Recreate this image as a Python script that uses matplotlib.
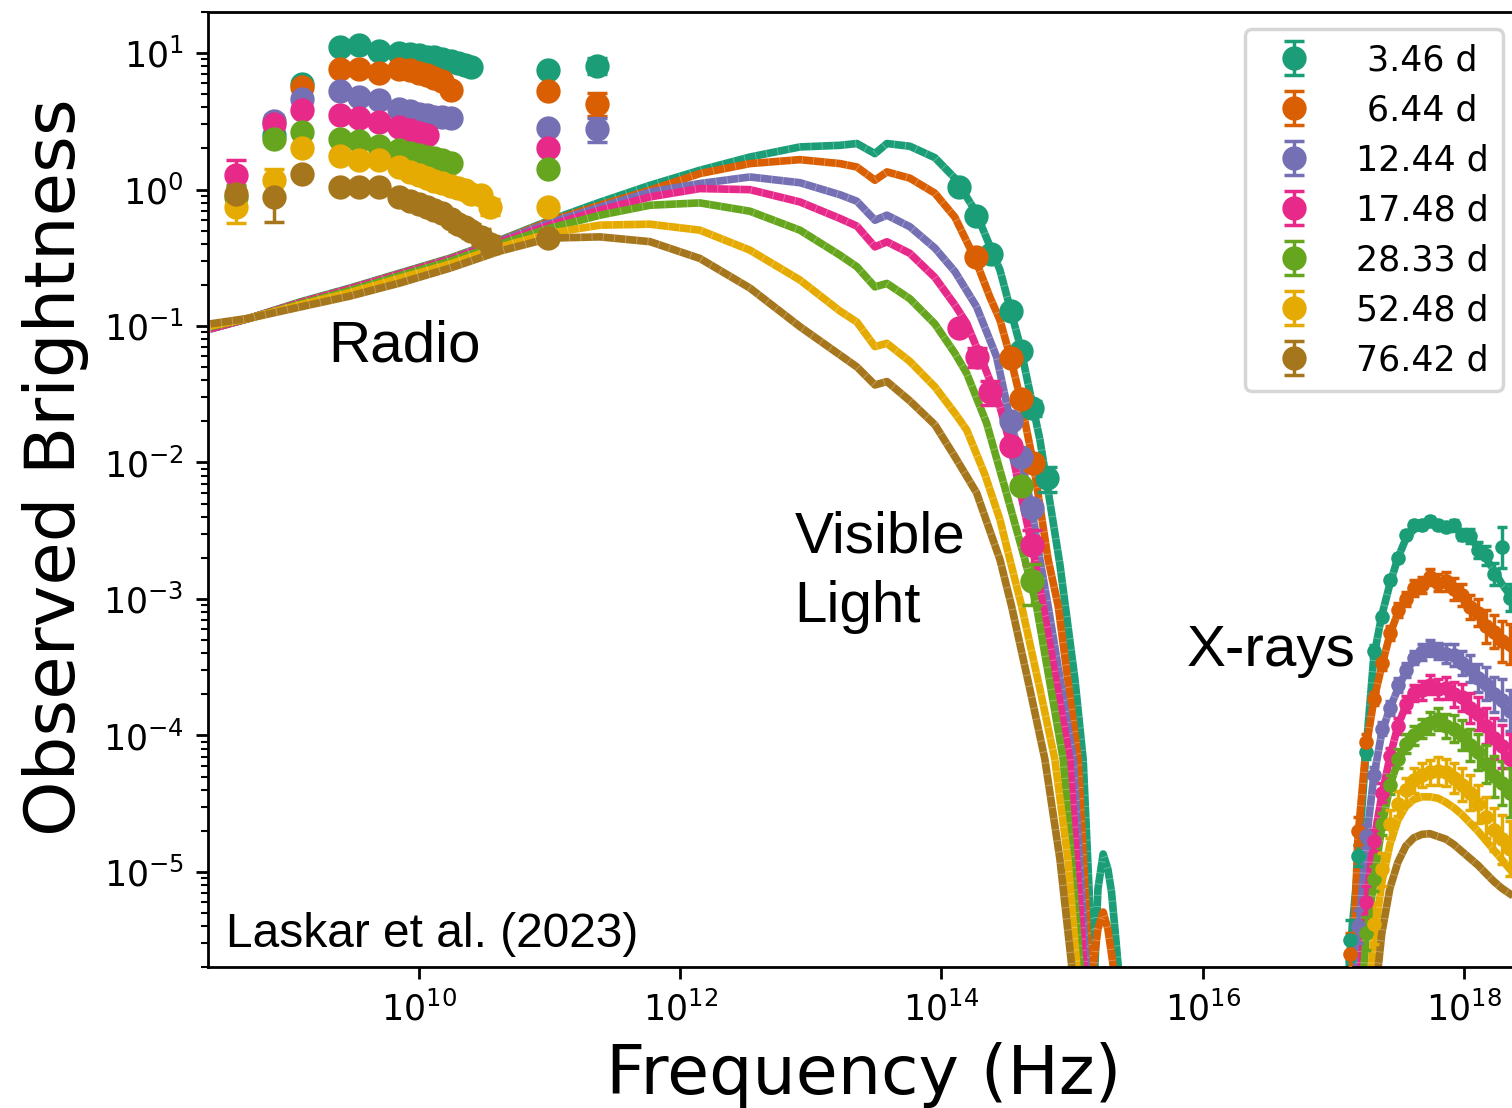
import numpy as np
import matplotlib.pyplot as plt
from matplotlib.ticker import NullLocator

nan = np.nan

epochs = [3.46, 6.44, 12.44, 17.48, 28.33, 52.48, 76.42]
colors = ['#1b9e77', '#d95f02', '#7570b3', '#e7298a', '#66a61e', '#e6ab02', '#a6761d']

# ---- radio / mm points (GHz)
radio_ghz = [0.4, 0.78, 1.27, 2.5, 3.5, 5.0, 7.0, 8.5, 10.0, 11.5, 13.0, 15.0,
             17.5, 20.0, 22.5, 25.0, 30.0, 35.0, 97.5, 230.0]

radio_346 = [nan, 2.5, 5.96, 11.0, 11.4, 10.4, 10.0, 9.9, 9.6, 9.4, 9.3, 9.1, 8.8, 8.5, 8.2, 7.9, nan, nan, 7.55, 8.1]
radio_644 = [nan, nan, 5.63, 7.7, 7.7, 7.2, 7.6, 7.5, 7.1, 6.9, 6.6, 6.2, 5.4, nan, nan, nan, nan, nan, 5.24, 4.26]
radio_1244 = [nan, 3.2, 4.63, 5.3, 4.8, 4.5, 3.9, 3.76, 3.6, 3.5, 3.4, 3.4, 3.34, nan, nan, nan, nan, nan, 2.84, 2.79]
radio_1748 = [1.27, 3.0, 3.80, 3.5, 3.34, 3.1, 2.87, 2.72, 2.6, 2.53, nan, nan, nan, nan, nan, nan, nan, nan, 2.03, nan]
radio_2833 = [0.88, 2.36, 2.64, 2.36, 2.27, 2.07, 1.94, 1.85, 1.78, 1.73, 1.69, 1.64, 1.57, nan, nan, nan, nan, nan, 1.41, nan]
radio_5248 = [0.746, 1.17, 2.01, 1.75, 1.64, 1.64, 1.46, 1.35, 1.27, 1.22, 1.16, 1.11, 1.06, 1.02, 0.99, 0.935, 0.91, 0.75, 0.75, nan]
radio_7642 = [0.935, 0.88, 1.31, 1.045, 1.045, 1.045, 0.88, 0.83, 0.78, 0.75, 0.71, 0.67, 0.61, 0.56, 0.53, 0.50, 0.45, 0.40, 0.44, nan]

rerr_346 = [nan, 0.1, 0.2, 0.3, 0.3, 0.3, 0.3, 0.2, 0.2, 0.2, 0.2, 0.2, 0.2, 0.2, 0.2, 0.2, nan, nan, 0.3, 1.1]
rerr_644 = [nan, nan, 0.2, 0.2, 0.2, 0.2, 0.2, 0.2, 0.2, 0.2, 0.2, 0.2, 0.2, nan, nan, nan, nan, nan, 0.2, 0.8]
rerr_1244 = [nan, 0.3, 0.15, 0.15, 0.15, 0.1, 0.1, 0.1, 0.1, 0.1, 0.1, 0.1, 0.1, nan, nan, nan, nan, nan, 0.1, 0.55]
rerr_1748 = [0.38, 0.3, 0.1, 0.1, 0.1, 0.1, 0.1, 0.1, 0.1, 0.1, nan, nan, nan, nan, nan, nan, nan, nan, 0.1, nan]
rerr_2833 = [0.2, 0.15, 0.1, 0.08, 0.08, 0.06, 0.06, 0.06, 0.05, 0.05, 0.05, 0.05, 0.05, nan, nan, nan, nan, nan, 0.05, nan]
rerr_5248 = [0.18, 0.25, 0.08, 0.06, 0.06, 0.05, 0.05, 0.05, 0.05, 0.05, 0.05, 0.05, 0.05, 0.05, 0.05, 0.06, 0.08, 0.1, 0.05, nan]
rerr_7642 = [0.1, 0.3, 0.06, 0.04, 0.04, 0.04, 0.04, 0.04, 0.04, 0.04, 0.04, 0.04, 0.05, 0.06, 0.06, 0.06, 0.06, 0.06, 0.04, nan]

# ---- optical / NIR points (Hz)
opt_nu_346 = [1.37e14, 1.84e14, 2.42e14, 3.39e14, 4.05e14, 4.91e14, 6.47e14]
opt_f_346 = [1.045, 0.638, 0.335, 0.129, 0.0659, 0.025, 0.00769]
opt_e_346 = [0.03, 0.02, 0.01, 0.004, 0.002, 0.003, 0.0016]
opt_nu_644 = [1.84e14, 3.39e14, 4.05e14, 5.05e14]
opt_f_644 = [0.318, 0.058, 0.0291, 0.0099]
opt_e_644 = [0.01, 0.002, 0.001, 0.001]
opt_nu_1244 = [3.39e14, 4.05e14, 4.91e14]
opt_f_1244 = [0.020, 0.0109, 0.00464]
opt_e_1244 = [0.001, 0.0006, 0.0004]
opt_nu_1748 = [1.37e14, 1.86e14, 2.38e14, 3.39e14, 4.91e14]
opt_f_1748 = [0.0962, 0.0596, 0.033, 0.01325, 0.0025]
opt_e_1748 = [0.004, 0.0094, 0.0067, 0.0012, 0.0007]
opt_nu_2833 = [4.05e14, 4.91e14]
opt_f_2833 = [0.00667, 0.00135]
opt_e_2833 = [0.0005, 0.00045]

# ---- X-ray points (log10 Hz, log10 flux, error in dex)
xr_lognu = [17.128, 17.189, 17.250, 17.311, 17.372, 17.434, 17.495, 17.556, 17.617, 17.679, 17.740,
            17.801, 17.862, 17.924, 17.985, 18.046, 18.107, 18.168, 18.230, 18.291, 18.352]
xr_346 = [-5.50, -4.88, -4.12, -3.38, -3.13, -2.86, -2.70, -2.53, -2.46, -2.46, -2.43,
          -2.46, -2.47, -2.46, -2.53, -2.54, -2.64, -2.68, -2.82, -2.62, -2.99]
xr_644 = [-5.60, -4.70, -4.05, -3.73, -3.47, -3.25, -3.08, -3.00, -2.92, -2.90, -2.84,
          -2.88, -2.87, -2.93, -2.97, -3.06, -3.10, -3.20, -3.24, -3.31, -3.33]
xr_1244 = [nan, -5.40, -4.74, -4.29, -3.95, -3.80, -3.63, -3.52, -3.43, -3.39, -3.36,
           -3.38, -3.40, -3.41, -3.47, -3.51, -3.58, -3.62, -3.70, -3.74, -3.82]
xr_1748 = [nan, nan, -5.22, -4.77, -4.42, -4.15, -3.93, -3.77, -3.69, -3.67, -3.63,
           -3.66, -3.65, -3.70, -3.72, -3.80, -3.84, -3.93, -4.02, -4.08, -4.17]
xr_2833 = [nan, nan, -5.45, -5.05, -4.65, -4.36, -4.17, -4.06, -4.00, -3.95, -3.91,
           -3.88, -3.93, -3.95, -4.00, -4.07, -4.12, -4.21, -4.30, -4.35, -4.42]
xr_5248 = [nan, nan, nan, -5.38, -4.98, -4.65, -4.50, -4.40, -4.33, -4.29, -4.27,
           -4.26, -4.27, -4.31, -4.36, -4.42, -4.50, -4.60, -4.69, -4.76, -4.83]
xe_346 = [0.15, 0.08, 0.05, 0.04, 0.03, 0.03, 0.03, 0.03, 0.03, 0.03, 0.03,
          0.03, 0.03, 0.04, 0.04, 0.05, 0.06, 0.07, 0.08, 0.15, 0.10]
xe_644 = [0.15, 0.10, 0.06, 0.05, 0.05, 0.05, 0.05, 0.05, 0.06, 0.06, 0.06,
          0.06, 0.07, 0.08, 0.08, 0.09, 0.10, 0.12, 0.12, 0.15, 0.15]
xe_1244 = [0.0, 0.12, 0.08, 0.06, 0.05, 0.05, 0.05, 0.05, 0.05, 0.06, 0.06,
           0.06, 0.07, 0.08, 0.09, 0.10, 0.10, 0.12, 0.13, 0.15, 0.15]
xe_1748 = [0.0, 0.0, 0.12, 0.08, 0.07, 0.06, 0.06, 0.06, 0.06, 0.07, 0.07,
           0.07, 0.08, 0.09, 0.10, 0.11, 0.12, 0.13, 0.15, 0.16, 0.18]
xe_2833 = [0.0, 0.0, 0.12, 0.09, 0.08, 0.07, 0.07, 0.07, 0.07, 0.07, 0.08,
           0.08, 0.09, 0.10, 0.11, 0.12, 0.13, 0.14, 0.15, 0.16, 0.18]
xe_5248 = [0.0, 0.0, 0.0, 0.15, 0.12, 0.10, 0.09, 0.09, 0.09, 0.09, 0.09,
           0.10, 0.10, 0.11, 0.12, 0.13, 0.14, 0.15, 0.16, 0.18, 0.20]

# ---- model curves, radio to optical (log10 Hz, log10 flux)
mod_lognu = [8.40, 8.708, 9.091, 9.473, 9.856, 10.239, 10.622, 11.004, 11.387, 11.770,
             12.152, 12.535, 12.918, 13.224, 13.354, 13.492, 13.584, 13.760, 13.951, 14.104]
mod_346 = [-1.022, -0.942, -0.824, -0.722, -0.612, -0.503, -0.371, -0.225, -0.093, 0.031,
           0.141, 0.238, 0.312, 0.324, 0.337, 0.263, 0.337, 0.317, 0.233, 0.083]
mod_644 = [-1.022, -0.942, -0.828, -0.726, -0.616, -0.506, -0.375, -0.232, -0.115, -0.005,
           0.117, 0.190, 0.219, 0.190, 0.165, 0.068, 0.129, 0.083, -0.027, -0.203]
mod_1244 = [-1.022, -0.942, -0.832, -0.729, -0.620, -0.510, -0.378, -0.243, -0.130, -0.018,
            0.044, 0.092, 0.050, -0.038, -0.086, -0.225, -0.188, -0.273, -0.429, -0.601]
mod_1748 = [-1.022, -0.942, -0.832, -0.729, -0.620, -0.514, -0.386, -0.261, -0.152, -0.054,
            0.007, -0.001, -0.091, -0.212, -0.268, -0.420, -0.383, -0.468, -0.644, -0.846]
mod_2833 = [-1.007, -0.942, -0.839, -0.740, -0.631, -0.525, -0.400, -0.283, -0.188, -0.115,
            -0.098, -0.159, -0.298, -0.481, -0.566, -0.713, -0.688, -0.801, -0.985, -1.200]
mod_5248 = [-1.000, -0.942, -0.846, -0.755, -0.649, -0.546, -0.422, -0.320, -0.261, -0.254,
            -0.298, -0.444, -0.663, -0.890, -0.971, -1.151, -1.127, -1.260, -1.446, -1.639]
mod_7642 = [-0.985, -0.942, -0.861, -0.781, -0.685, -0.576, -0.451, -0.356, -0.347, -0.382,
            -0.505, -0.722, -1.005, -1.212, -1.300, -1.432, -1.407, -1.549, -1.724, -1.958]

# steep optical cut-off of each model
tail_nu_346 = [14.257, 14.449, 14.602, 14.755, 14.908, 15.023, 15.086, 15.132, 15.150, 15.164,
               15.176, 15.199, 15.239, 15.275, 15.303, 15.329, 15.354, 15.367]
tail_f_346 = [-0.151, -0.590, -1.139, -1.834, -2.748, -3.590, -4.175, -5.148, -5.689, -7.0,
              -5.689, -5.125, -4.869, -4.979, -5.148, -5.418, -5.689, -7.0]
tail_nu_644 = [14.257, 14.372, 14.449, 14.530, 14.602, 14.704, 14.818, 14.895, 15.048, 15.130,
               15.145, 15.163, 15.199, 15.239, 15.275, 15.316, 15.329]
tail_f_644 = [-0.503, -0.788, -0.956, -1.234, -1.518, -2.002, -2.712, -3.053, -4.175, -5.675,
              -7.0, -5.689, -5.418, -5.294, -5.418, -5.689, -7.0]
tail_nu_1244 = [14.270, 14.423, 14.530, 14.607, 14.691, 14.755, 14.818, 15.010, 15.107, 15.122]
tail_f_1244 = [-0.859, -1.225, -1.700, -1.963, -2.331, -2.712, -3.053, -4.175, -5.675, -7.0]
tail_nu_1748 = [14.194, 14.321, 14.449, 14.530, 14.602, 14.716, 14.780, 14.984, 15.091, 15.107]
tail_f_1748 = [-0.980, -1.273, -1.590, -1.878, -2.200, -2.712, -3.053, -4.175, -5.675, -7.0]
tail_nu_2833 = [14.194, 14.347, 14.487, 14.640, 14.729, 14.933, 15.061, 15.076]
tail_f_2833 = [-1.346, -1.712, -2.185, -2.712, -3.053, -4.175, -5.675, -7.0]
tail_nu_5248 = [14.194, 14.334, 14.449, 14.525, 14.615, 14.755, 14.869, 14.969, 15.036, 15.049]
tail_f_5248 = [-1.761, -2.090, -2.419, -2.712, -3.053, -3.661, -4.175, -4.906, -5.675, -7.0]
tail_nu_7642 = [14.270, 14.449, 14.538, 14.678, 14.793, 14.908, 14.997, 15.011]
tail_f_7642 = [-2.222, -2.712, -3.053, -3.661, -4.175, -4.906, -5.675, -7.0]

# ---- model curves, X-ray part
xm_lognu = [17.05, 17.128, 17.189, 17.25, 17.311, 17.372, 17.434, 17.495, 17.556, 17.617, 17.679, 17.74,
            17.801, 17.862, 17.924, 17.985, 18.046, 18.107, 18.168, 18.23, 18.291, 18.352, 18.43]
xm_346 = [-7.0, -5.6, -4.95, -4.13, -3.42, -3.12, -2.89, -2.70, -2.56, -2.49, -2.46, -2.45,
          -2.45, -2.46, -2.48, -2.51, -2.55, -2.62, -2.70, -2.79, -2.89, -2.97, -3.06]
xm_644 = [-7.5, -6.3, -4.75, -4.10, -3.74, -3.49, -3.26, -3.10, -3.00, -2.94, -2.90, -2.88,
          -2.88, -2.90, -2.93, -2.98, -3.05, -3.12, -3.19, -3.26, -3.31, -3.36, -3.42]
xm_1244 = [-8.0, -7.0, -5.5, -4.80, -4.30, -3.98, -3.80, -3.66, -3.53, -3.45, -3.40, -3.38,
           -3.38, -3.40, -3.43, -3.48, -3.53, -3.59, -3.65, -3.71, -3.77, -3.83, -3.90]
xm_1748 = [-8.0, -7.2, -6.0, -5.25, -4.77, -4.44, -4.16, -3.93, -3.78, -3.71, -3.67, -3.65,
           -3.66, -3.67, -3.70, -3.74, -3.80, -3.86, -3.94, -4.02, -4.10, -4.17, -4.25]
xm_2833 = [-8.0, -7.5, -6.3, -5.50, -5.07, -4.67, -4.37, -4.19, -4.08, -4.01, -3.96, -3.93,
           -3.92, -3.93, -3.96, -4.00, -4.07, -4.14, -4.22, -4.30, -4.37, -4.42, -4.48]
xm_5248 = [-8.0, -7.8, -6.9, -6.1, -5.50, -5.08, -4.80, -4.62, -4.52, -4.47, -4.45, -4.45,
           -4.46, -4.49, -4.53, -4.58, -4.64, -4.70, -4.77, -4.84, -4.91, -4.98, -5.06]
xm_7642 = [-8.0, -8.0, -7.5, -6.8, -6.0, -5.45, -5.12, -4.93, -4.81, -4.75, -4.725, -4.72,
           -4.74, -4.76, -4.80, -4.85, -4.90, -4.95, -5.01, -5.07, -5.12, -5.16, -5.21]

radio_flux = [radio_346, radio_644, radio_1244, radio_1748, radio_2833, radio_5248, radio_7642]
radio_err = [rerr_346, rerr_644, rerr_1244, rerr_1748, rerr_2833, rerr_5248, rerr_7642]
opt_sets = [(opt_nu_346, opt_f_346, opt_e_346), (opt_nu_644, opt_f_644, opt_e_644),
            (opt_nu_1244, opt_f_1244, opt_e_1244), (opt_nu_1748, opt_f_1748, opt_e_1748),
            (opt_nu_2833, opt_f_2833, opt_e_2833), None, None]
xr_sets = [(xr_346, xe_346), (xr_644, xe_644), (xr_1244, xe_1244), (xr_1748, xe_1748),
           (xr_2833, xe_2833), (xr_5248, xe_5248), None]
mods = [mod_346, mod_644, mod_1244, mod_1748, mod_2833, mod_5248, mod_7642]
tails = [(tail_nu_346, tail_f_346), (tail_nu_644, tail_f_644), (tail_nu_1244, tail_f_1244),
         (tail_nu_1748, tail_f_1748), (tail_nu_2833, tail_f_2833), (tail_nu_5248, tail_f_5248),
         (tail_nu_7642, tail_f_7642)]
xmods = [xm_346, xm_644, xm_1244, xm_1748, xm_2833, xm_5248, xm_7642]

fig = plt.figure(figsize=(6.048, 4.432), dpi=250)
ax = fig.add_axes([0.1376, 0.1270, 0.8677, 0.8622])
ax.set_xscale('log')
ax.set_yscale('log')


def model_line(x, y, c, z):
    ax.plot(x, y, color=c, lw=2.2, solid_capstyle='butt', solid_joinstyle='round', zorder=z)
    # faint white hatching along the model curve
    ax.plot(x, y, color='white', lw=2.2, alpha=0.3, linestyle=(0, (0.12, 1.35)),
            dash_capstyle='butt', zorder=z + 0.001)


# models
for i in range(7):
    c = colors[i]
    lo_nu = np.array(mod_lognu + tails[i][0])
    lo_f = np.array(mods[i] + tails[i][1])
    model_line(10 ** lo_nu, 10 ** lo_f, c, 2 + 0.01 * i)
    model_line(10 ** np.array(xm_lognu), 10 ** np.array(xmods[i]), c, 2 + 0.01 * i)

# data
radio_hz = np.array(radio_ghz) * 1e9
for i in range(7):
    c = colors[i]
    z = 3 + 0.01 * i
    ax.errorbar(radio_hz, radio_flux[i], yerr=radio_err[i], fmt='o', color=c, ms=6,
                elinewidth=1.0, capsize=3, capthick=1.0, zorder=z,
                label=f'{epochs[i]:5.2f} d')
    if opt_sets[i] is not None:
        nu, f, e = opt_sets[i]
        ax.errorbar(nu, f, yerr=e, fmt='o', color=c, ms=6, elinewidth=1.0,
                    capsize=3, capthick=1.0, zorder=z)
    if xr_sets[i] is not None:
        lf, le = xr_sets[i]
        lf = np.array(lf)
        le = np.array(le)
        f = 10 ** lf
        yerr = [f - 10 ** (lf - le), 10 ** (lf + le) - f]
        ax.errorbar(10 ** np.array(xr_lognu), f, yerr=yerr, fmt='o', color=c, ms=3.2,
                    elinewidth=1.0, capsize=1.5, capthick=1.0, zorder=z)

ax.set_xlim(10 ** 8.387, 10 ** 18.43)
ax.set_ylim(2e-6, 20)
ax.set_xticks([1e10, 1e12, 1e14, 1e16, 1e18])
ax.xaxis.set_minor_locator(NullLocator())
ax.tick_params(labelsize=10)

ax.set_xlabel('Frequency (Hz)', fontsize=19.7)
ax.set_ylabel('Observed Brightness', fontsize=20.3, y=0.524)

ann = dict(family='Liberation Sans', fontsize=16.8, va='baseline')
ax.text(10 ** 9.305, 10 ** -1.263, 'Radio', **ann)
ax.text(10 ** 12.878, 10 ** -2.661, 'Visible', **ann)
ax.text(10 ** 12.878, 10 ** -3.166, 'Light', **ann)
ax.text(10 ** 15.881, 10 ** -3.494, 'X-rays', **ann)
ax.text(0.0137, 0.021, 'Laskar et al. (2023)', transform=ax.transAxes,
        family='Liberation Sans', fontsize=13.8, va='baseline')

ax.legend(loc='upper right', fontsize=10, labelspacing=0.46)

fig.savefig('out.png', dpi=250)
